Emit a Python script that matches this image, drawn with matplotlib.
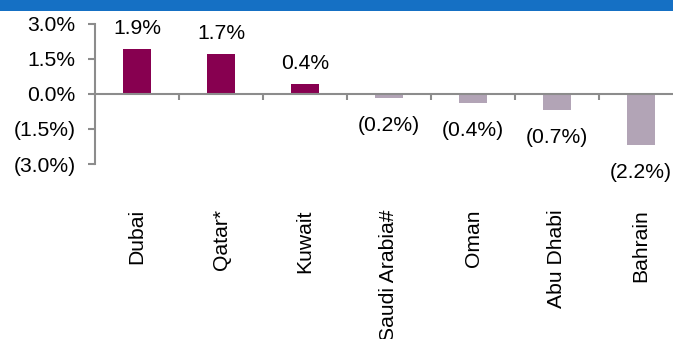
import matplotlib
matplotlib.use("Agg")
import matplotlib.pyplot as plt
from matplotlib.patches import Rectangle

plt.rcParams['font.family'] = ['Liberation Sans', 'DejaVu Sans']

categories = ["Dubai", "Qatar*", "Kuwait", "Saudi Arabia#", "Oman", "Abu Dhabi", "Bahrain"]
values = [1.9, 1.7, 0.4, -0.2, -0.4, -0.7, -2.2]
yticks = [3.0, 1.5, 0.0, -1.5, -3.0]
ytick_labels = ["3.0%", "1.5%", "0.0%", "(1.5%)", "(3.0%)"]

POS = "#870050"
NEG = "#B2A4B6"
AXIS = "#8C8C8C"
FS = 15.2

W, H = 673, 339
fig = plt.figure(figsize=(W / 100, H / 100), dpi=100)

# header band along the top edge
fig.patches.append(Rectangle((0, 1 - 11 / H), 1, 11 / H, transform=fig.transFigure,
                             facecolor="#1570C4", edgecolor="none", zorder=0))

left = 95 / W
bottom = 1 - 164 / H
top = 1 - 23.5 / H
ax = fig.add_axes([left, bottom, 7 * 84 / W, top - bottom])

x = list(range(len(categories)))
colors = [POS if v >= 0 else NEG for v in values]
ax.bar(x, values, width=0.33, color=colors, zorder=2)

ax.set_xlim(-0.5, len(categories) - 0.5)
ax.set_ylim(-3.0, 3.0)

for s in ["top", "right"]:
    ax.spines[s].set_visible(False)
ax.spines["left"].set_color(AXIS)
ax.spines["left"].set_linewidth(1.5)
ax.spines["bottom"].set_position(("data", 0))
ax.spines["bottom"].set_color(AXIS)
ax.spines["bottom"].set_linewidth(1.5)

ax.set_yticks(yticks)
ax.set_yticklabels(ytick_labels, fontsize=FS)
ax.tick_params(axis="y", length=5, width=1.5, color=AXIS, pad=9)

ax.set_xticks([i + 0.5 for i in x[:-1]] + [len(categories) - 0.5])
ax.set_xticklabels([])
ax.tick_params(axis="x", direction="out", length=4.5, width=1.5, color=AXIS)

for i, v in enumerate(values):
    if v >= 0:
        txt, off = f"{v:.1f}%", 15
    else:
        txt, off = f"({abs(v):.1f}%)", -19.5
    ax.annotate(txt, xy=(i, v), xytext=(0, off), textcoords="offset points",
                ha="center", va="center", fontsize=FS, annotation_clip=False)

for i, name in enumerate(categories):
    ax.annotate(name, xy=(i, 0), xycoords=("data", "axes fraction"),
                xytext=(0, -32.5), textcoords="offset points",
                rotation=90, ha="center", va="top", fontsize=FS,
                annotation_clip=False)

fig.savefig("out.png", dpi=100)
